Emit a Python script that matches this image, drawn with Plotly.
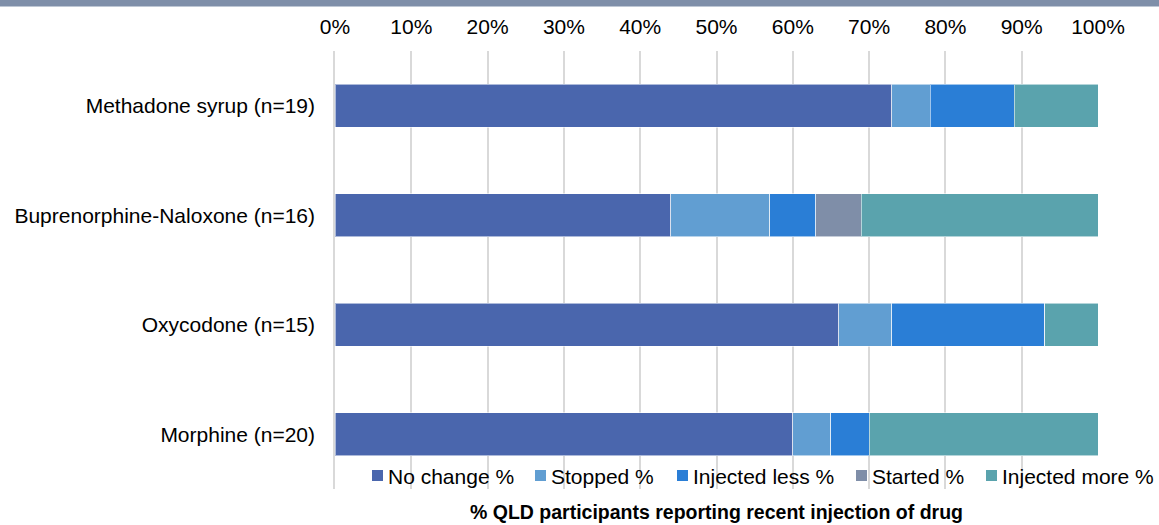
import plotly.graph_objects as go

# Drugs (top to bottom) and share of participants in each change category (%)
drugs = [
    "Methadone syrup (n=19)",
    "Buprenorphine-Naloxone (n=16)",
    "Oxycodone (n=15)",
    "Morphine (n=20)",
]
series_names = ["No change %", "Stopped %", "Injected less %", "Started %", "Injected more %"]
no_change = [73, 44, 66, 60]
stopped = [5, 13, 7, 5]
injected_less = [11, 6, 20, 5]
started = [0, 6, 0, 0]
injected_more = [11, 31, 7, 30]
x_ticks = list(range(0, 101, 10))
x_tick_labels = [f"{v}%" for v in x_ticks]

series_values = [no_change, stopped, injected_less, started, injected_more]
colors = ["#4A66AD", "#619ED2", "#2A7ED6", "#7F8EA8", "#5AA3AD"]

FONT = "Liberation Sans, Arial, sans-serif"
FS = 21

# plot-area geometry in pixels
W, H = 1159, 525
L, R, T, B = 335, 61, 51, 36
PW, PH = W - L - R, H - T - B


def px_x(px):
    return (px - L) / PW


def px_y(py):
    return (H - B - py) / PH


fig = go.Figure()
for name, vals, col in zip(series_names, series_values, colors):
    fig.add_trace(go.Bar(
        y=drugs, x=vals, name=name, orientation="h",
        marker=dict(color=col, line=dict(color="rgba(255,255,255,0.55)", width=1)),
        showlegend=False,
        hovertemplate="%{y}<br>" + name + ": %{x}%<extra></extra>",
    ))

shapes = [
    # slate band across the top of the page
    dict(type="rect", xref="paper", yref="paper",
         x0=px_x(-5), x1=px_x(W + 5), y0=px_y(6.5), y1=px_y(-5),
         fillcolor="#7F8FA9", line=dict(width=0), layer="above"),
]
annotations = [
    dict(text="<b>% QLD participants reporting recent injection of drug</b>",
         xref="paper", yref="paper", x=0.5, y=px_y(512),
         xanchor="center", yanchor="middle", showarrow=False,
         font=dict(family=FONT, size=19.5, color="#000000")),
]

# legend row drawn inside the bottom of the plot area
legend_left = [372, 535, 677, 856, 986]
for name, col, lx in zip(series_names, colors, legend_left):
    shapes.append(dict(type="rect", xref="paper", yref="paper",
                       x0=px_x(lx), x1=px_x(lx + 11), y0=px_y(481), y1=px_y(470),
                       fillcolor=col, line=dict(width=0)))
    annotations.append(dict(text=name, xref="paper", yref="paper",
                            x=px_x(lx + 14), y=px_y(476), xanchor="left", yanchor="middle",
                            showarrow=False, font=dict(family=FONT, size=FS, color="#000000")))

fig.update_layout(
    width=W, height=H,
    margin=dict(l=L, r=R, t=T, b=B, pad=0),
    barmode="stack",
    bargap=0.61,
    plot_bgcolor="#FFFFFF",
    paper_bgcolor="#FFFFFF",
    font=dict(family=FONT, size=FS, color="#000000"),
    xaxis=dict(
        side="top", range=[0, 100], tickmode="array",
        tickvals=x_ticks, ticktext=x_tick_labels,
        showgrid=True, gridcolor="#D9D9D9", gridwidth=1.5,
        zeroline=False, showline=False, ticks="", ticklabelstandoff=12,
        tickfont=dict(family=FONT, size=FS, color="#000000"),
        fixedrange=True,
    ),
    yaxis=dict(
        categoryorder="array", categoryarray=drugs, autorange="reversed",
        showgrid=False, zeroline=False,
        showline=True, linecolor="#D9D9D9", linewidth=1.5,
        ticks="", ticklabelstandoff=14,
        tickfont=dict(family=FONT, size=FS, color="#000000"),
        fixedrange=True,
    ),
    shapes=shapes,
    annotations=annotations,
)

fig.write_html("out.html")
